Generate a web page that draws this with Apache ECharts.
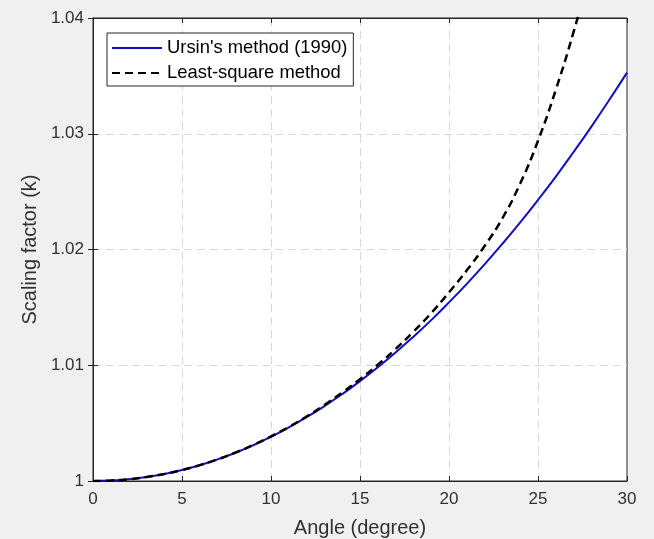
<!DOCTYPE html>
<html>
<head>
<meta charset="utf-8">
<script src="https://cdn.jsdelivr.net/npm/echarts@6/dist/echarts.min.js"></script>
<style>
html,body{margin:0;padding:0;background:#f0f0f0;}
#chart{width:654px;height:539px;}
</style>
</head>
<body>
<div id="chart"></div>
<script>
// Angle (degree)
var angles = [0,1,2,3,4,5,6,7,8,9,10,11,12,13,14,15,16,17,18,19,20,21,22,23,24,25,26,27,28,29,30];
// Ursin's method (1990)
var ursinK = [1.00000,1.00004,1.00015,1.00034,1.00061,1.00095,1.00137,1.00187,1.00244,1.00309,
              1.00382,1.00463,1.00551,1.00647,1.00751,1.00863,1.00983,1.01111,1.01247,1.01390,
              1.01543,1.01703,1.01872,1.02049,1.02234,1.02428,1.02630,1.02842,1.03062,1.03291,1.03528];
// Least-square method
var lsqK = [1.00000,1.00004,1.00015,1.00034,1.00061,1.00095,1.00137,1.00187,1.00245,1.00311,
            1.00385,1.00467,1.00557,1.00657,1.00765,1.00880,1.01005,1.01140,1.01290,1.01450,
            1.01630,1.01820,1.02030,1.02270,1.02570,1.02940,1.03380,1.03880,1.04440,1.05060,1.05740];
var xTicks = [0,5,10,15,20,25,30];
var yTicks = [1,1.01,1.02,1.03,1.04];
var seriesNames = ["Ursin's method (1990)", "Least-square method"];
var xName = "Angle (degree)";
var yName = "Scaling factor (k)";

function pairs(xs, ys){ return xs.map(function(x,i){ return [x, ys[i]]; }); }

var FONT = '"Liberation Sans", Arial, Helvetica, sans-serif';
var TXT = '#303030';
var AX = '#262626';
var grid = {left:93, right:27, top:18, bottom:58, show:true, backgroundColor:'#ffffff', borderColor:AX, borderWidth:1,
            outerBoundsMode:'none', containLabel:false};
var gridLine = {show:true, showMinLine:false, showMaxLine:false, lineStyle:{color:'#d8d8d8', type:[8,5], width:1}};

var chart = echarts.init(document.getElementById('chart'), null, {renderer:'canvas'});
chart.setOption({
  backgroundColor:'#f0f0f0',
  animation:false,
  grid: grid,
  legend: {
    orient:'vertical', left:107, top:33,
    data: seriesNames,
    backgroundColor:'#ffffff', borderColor:AX, borderWidth:1, borderRadius:0,
    padding:[6,6,4,4], itemGap:7, itemWidth:50, itemHeight:14,
    itemStyle:{opacity:0},
    textStyle:{fontFamily:FONT, fontSize:18.4, color:'#000', lineHeight:18}
  },
  xAxis: [{
    type:'value', min:0, max:30, interval:5,
    name:xName, nameLocation:'middle', nameGap:37,
    nameTextStyle:{fontFamily:FONT, fontSize:20, color:TXT},
    axisLine:{show:true, lineStyle:{color:AX}},
    axisTick:{show:true, inside:true, length:5, lineStyle:{color:AX}},
    axisLabel:{fontFamily:FONT, fontSize:17, color:TXT, margin:10,
      formatter:function(v){ return xTicks.indexOf(v) >= 0 ? String(v) : ''; }},
    splitLine:gridLine
  },{
    type:'value', min:0, max:30, interval:5, position:'top',
    axisLine:{show:true, lineStyle:{color:AX}}, axisTick:{show:true, inside:true, length:5, lineStyle:{color:AX}},
    axisLabel:{show:false}, splitLine:{show:false}
  }],
  yAxis: [{
    type:'value', min:1, max:1.04, interval:0.01,
    name:yName, nameLocation:'middle', nameGap:46, nameRotate:90,
    nameTextStyle:{fontFamily:FONT, fontSize:20, color:TXT},
    axisLine:{show:true, lineStyle:{color:AX}},
    axisTick:{show:true, inside:true, length:5, lineStyle:{color:AX}},
    axisLabel:{fontFamily:FONT, fontSize:17, color:TXT, margin:9,
      formatter:function(v){ var r = Math.round(v*100)/100; return String(r); }},
    splitLine:gridLine
  },{
    type:'value', min:1, max:1.04, interval:0.01, position:'right',
    axisLine:{show:true, lineStyle:{color:AX}}, axisTick:{show:true, inside:true, length:5, lineStyle:{color:AX}},
    axisLabel:{show:false}, splitLine:{show:false}
  }],
  series: [{
    name:seriesNames[0], type:'line', data:pairs(angles, ursinK),
    smooth:true, symbol:'none', showSymbol:false, clip:true,
    lineStyle:{color:'#1010c0', width:2}, itemStyle:{color:'#1010c0'}
  },{
    name:seriesNames[1], type:'line', data:pairs(angles, lsqK),
    smooth:true, symbol:'none', showSymbol:false, clip:true,
    lineStyle:{color:'#000000', width:2.5, type:[8,5]}, itemStyle:{color:'#000000'}
  }]
});
</script>
</body>
</html>
